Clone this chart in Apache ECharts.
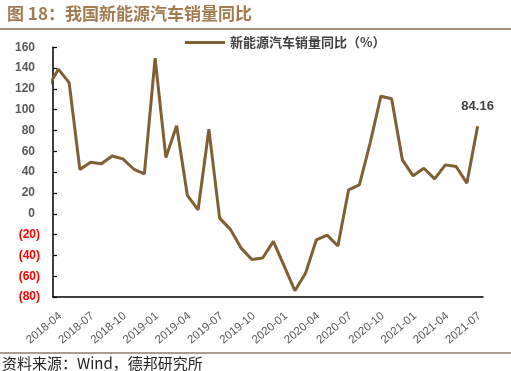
<!DOCTYPE html>
<html>
<head>
<meta charset="utf-8">
<script src="https://cdn.jsdelivr.net/npm/echarts@6/dist/echarts.min.js"></script>
<style>html,body{margin:0;padding:0;background:#fff}#c{width:511px;height:371px}</style>
</head>
<body>
<div id="c"></div>
<script>
// Months (first one, 2018-03, lies just left of the plot and is clipped at the axis)
var months = ['2018-03','2018-04','2018-05','2018-06','2018-07','2018-08','2018-09','2018-10','2018-11','2018-12',
  '2019-01','2019-02','2019-03','2019-04','2019-05','2019-06','2019-07','2019-08','2019-09','2019-10','2019-11','2019-12',
  '2020-01','2020-02','2020-03','2020-04','2020-05','2020-06','2020-07','2020-08','2020-09','2020-10','2020-11','2020-12',
  '2021-01','2021-02','2021-03','2021-04','2021-05','2021-06','2021-07'];
var nevYoY = [121, 139, 126, 42.5, 49.5, 48, 55.5, 52.8, 43, 38.3,
  149.5, 54, 84.5, 17.6, 3.8, 81.3, -4.2, -15, -33, -44, -42.5, -26.6,
  -50, -74, -57, -25, -20.5, -31, 23, 27.8, 68, 113, 110.5, 51.8,
  36.5, 43.8, 33.6, 47, 45.4, 29.4, 84.16];
var yTicks = {min: -80, max: 160, step: 20};
var seriesName = '新能源汽车销量同比（%）';
var titleText = '图 18：我国新能源汽车销量同比';
var sourceText = '资料来源：Wind，德邦研究所';

var axisMonths = months.slice(1);
var lastIdx = nevYoY.length - 1;
var lineData = nevYoY.map(function (v, i) {
  if (i === lastIdx) {
    return {value: [i - 1, v], label: {show: true, position: 'top', distance: 13,
      formatter: function (p) { return p.value[1].toFixed(2); },
      fontFamily: 'Liberation Sans', fontWeight: 'bold', fontSize: 13, color: '#404040'}};
  }
  return [i - 1, v];
});
// label anchors: every third month, nudged slightly right of the category centre
var labelShift = 0.18;
var labelValues = [];
for (var k = 0; k < axisMonths.length; k += 3) labelValues.push(k + labelShift);

var chart = echarts.init(document.getElementById('c'), null, {renderer: 'canvas'});
chart.setOption({
  animation: false,
  backgroundColor: '#fff',
  title: {
    text: titleText, left: 2, top: 0,
    textStyle: {fontFamily: 'Noto Sans CJK SC', fontWeight: 'bold', fontSize: 17, color: '#a27a50'}
  },
  legend: {
    data: [seriesName], left: 180, top: 31,
    icon: 'rect', itemWidth: 40, itemHeight: 3,
    textStyle: {fontFamily: 'Noto Sans CJK SC', fontWeight: 'bold', fontSize: 13, color: '#404040'}
  },
  grid: {left: 53, right: 28, top: 47.3, bottom: 74},
  xAxis: [
    {type: 'value', min: -0.5, max: axisMonths.length - 0.5, show: false},
    {type: 'category', data: axisMonths, boundaryGap: true, position: 'bottom',
      axisLine: {onZero: true, lineStyle: {color: '#000', width: 1.5}},
      axisTick: {inside: true, length: 4, interval: 2, lineStyle: {color: '#000', width: 1.2}},
      axisLabel: {show: false}},
    {type: 'value', min: -0.5, max: axisMonths.length - 0.5, position: 'bottom',
      axisLine: {show: false, onZero: false}, axisTick: {show: false}, splitLine: {show: false},
      axisLabel: {customValues: labelValues, rotate: 40, margin: 17.5,
        formatter: function (v) { return axisMonths[Math.round(v - labelShift)]; },
        fontFamily: 'Liberation Sans', fontSize: 11.5, color: '#595959'}}
  ],
  yAxis: {
    type: 'value', min: yTicks.min, max: yTicks.max, interval: yTicks.step,
    axisLine: {show: true, onZero: false, lineStyle: {color: '#000', width: 1.5}},
    axisTick: {show: true, inside: true, length: 4, lineStyle: {color: '#000', width: 1.2}},
    splitLine: {show: false},
    axisLabel: {
      margin: 13,
      formatter: function (v) { return v < 0 ? '{n|(' + Math.abs(v) + ')}' : '{p|' + v + '}'; },
      rich: {
        p: {fontFamily: 'Liberation Sans', fontWeight: 'bold', fontSize: 12, color: '#595959', padding: [0, 5, 0, 0]},
        n: {fontFamily: 'Liberation Sans', fontWeight: 'bold', fontSize: 12, color: '#ff0000'}
      }
    }
  },
  series: [{
    name: seriesName, type: 'line', xAxisIndex: 0, yAxisIndex: 0,
    data: lineData, symbol: 'circle', symbolSize: 0, showSymbol: true, showAllSymbol: true, clip: true,
    itemStyle: {color: '#7f6034'},
    lineStyle: {color: '#7f6034', width: 3}
  }],
  graphic: [
    {type: 'line', shape: {x1: 0, y1: 29, x2: 511, y2: 29}, style: {stroke: '#a89272', lineWidth: 2}},
    {type: 'line', shape: {x1: 0, y1: 353, x2: 511, y2: 353}, style: {stroke: '#ab9d8c', lineWidth: 2}},
    {type: 'text', left: 2, top: 356, style: {text: sourceText, fontFamily: 'Noto Sans CJK SC', fontSize: 15, fill: '#222'}}
  ]
});
</script>
</body>
</html>
